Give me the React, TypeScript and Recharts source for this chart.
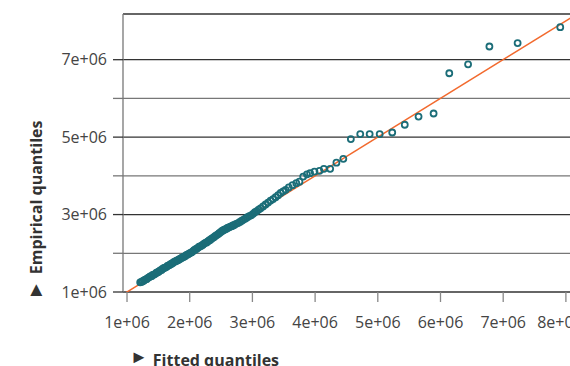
import { ScatterChart, Scatter, XAxis, YAxis, ReferenceLine } from 'recharts'

// fitted (theoretical) quantiles, in units of 1e+06
const fitted = [
  1.21, 1.23, 1.25, 1.27, 1.29, 1.31, 1.33, 1.35, 1.37, 1.39,
  1.41, 1.43, 1.45, 1.47, 1.49, 1.51, 1.53, 1.55, 1.57, 1.59,
  1.61, 1.63, 1.65, 1.67, 1.69, 1.71, 1.73, 1.75, 1.77, 1.79,
  1.81, 1.83, 1.85, 1.87, 1.89, 1.91, 1.93, 1.95, 1.97, 1.99,
  2.01, 2.03, 2.05, 2.07, 2.09, 2.11, 2.13, 2.15, 2.17, 2.19,
  2.21, 2.23, 2.25, 2.27, 2.29, 2.31, 2.33, 2.35, 2.37, 2.39,
  2.41, 2.43, 2.45, 2.47, 2.49, 2.51, 2.53, 2.55, 2.57, 2.59,
  2.61, 2.63, 2.65, 2.67, 2.69, 2.71, 2.74, 2.77, 2.80, 2.83,
  2.86, 2.89, 2.92, 2.95, 2.98, 3.01, 3.04, 3.07, 3.10, 3.13,
  3.17, 3.21, 3.25, 3.29, 3.33, 3.37, 3.41, 3.45, 3.49, 3.53,
  3.58, 3.64, 3.70, 3.75, 3.81, 3.87, 3.92, 3.99, 4.07, 4.14,
  4.24, 4.34, 4.45, 4.57, 4.72, 4.87, 5.03, 5.23, 5.43, 5.65,
  5.89, 6.14, 6.44, 6.78, 7.23, 7.91,
]

// empirical quantiles, in units of 1e+06
const empirical = [
  1.25, 1.26, 1.28, 1.30, 1.32, 1.33, 1.36, 1.38, 1.40, 1.41,
  1.44, 1.45, 1.47, 1.50, 1.51, 1.53, 1.56, 1.57, 1.60, 1.62,
  1.63, 1.65, 1.68, 1.69, 1.71, 1.73, 1.75, 1.78, 1.79, 1.81,
  1.82, 1.84, 1.86, 1.88, 1.90, 1.91, 1.93, 1.96, 1.97, 1.99,
  2.01, 2.02, 2.05, 2.08, 2.10, 2.12, 2.14, 2.17, 2.18, 2.20,
  2.22, 2.25, 2.27, 2.28, 2.31, 2.33, 2.35, 2.38, 2.40, 2.42,
  2.45, 2.47, 2.49, 2.52, 2.54, 2.57, 2.59, 2.61, 2.62, 2.64,
  2.66, 2.67, 2.69, 2.70, 2.72, 2.73, 2.76, 2.78, 2.81, 2.84,
  2.87, 2.90, 2.93, 2.96, 2.98, 3.02, 3.06, 3.09, 3.13, 3.16,
  3.21, 3.26, 3.31, 3.36, 3.40, 3.45, 3.50, 3.56, 3.60, 3.64,
  3.70, 3.76, 3.81, 3.85, 3.98, 4.04, 4.07, 4.11, 4.13, 4.18,
  4.18, 4.34, 4.44, 4.95, 5.08, 5.08, 5.08, 5.12, 5.32, 5.53,
  5.61, 6.65, 6.88, 7.34, 7.43, 7.84,
]

const xTicks = [1, 2, 3, 4, 5, 6, 7, 8]
const yTicks = [1, 2, 3, 4, 5, 6, 7]
const yLabelled = [1, 3, 5, 7]
const fitLine = [0.9, 8.5] // y = x reference

const points = fitted.map((x, i) => ({ x, y: empirical[i] }))

const FONT = '"Open Sans", sans-serif'
const fmt = (v: number) => `${v}e+06`

function YTick({ x, y, payload }: any) {
  const major = yLabelled.includes(payload.value)
  return (
    <g>
      <line x1={x + 6} x2={x + 16} y1={y} y2={y} stroke={major ? '#333' : '#777'} strokeWidth={1.3} />
      {major && (
        <text x={x} y={y} dy="0.35em" textAnchor="end" fill="#444" fontSize={16} fontFamily={FONT}>
          {fmt(payload.value)}
        </text>
      )}
    </g>
  )
}

function Dot({ cx, cy }: any) {
  return <circle cx={cx} cy={cy} r={3} fill="none" stroke="#1b6d78" strokeWidth={1.8} />
}

export default function App() {
  return (
    <div style={{ position: 'absolute', left: 0, top: 0, width: 570, height: 366, overflow: 'hidden', background: '#fff' }}>
      <ScatterChart width={580} height={366} margin={{ top: 14, right: 0, bottom: 0, left: 0 }}>
        <XAxis
          type="number"
          dataKey="x"
          domain={[0.936, 8.225]}
          ticks={xTicks}
          tickFormatter={fmt}
          axisLine={false}
          tickSize={10}
          tickMargin={15}
          tickLine={{ stroke: '#888', strokeWidth: 1.3 }}
          tick={{ fill: '#444', fontSize: 16, fontFamily: FONT }}
          height={74}
          allowDataOverflow
          label={{
            content: () => (
              <text x={130} y={366} fill="#333" fontSize={16} fontWeight="bold" fontFamily={FONT}>
                <tspan fontSize={18} dy={-3}>►</tspan>
                <tspan dx={5} dy={3}>Fitted quantiles</tspan>
              </text>
            ),
          }}
        />
        <YAxis
          type="number"
          dataKey="y"
          domain={[1, 8.18]}
          ticks={yTicks}
          width={123}
          tickSize={10}
          tickMargin={6}
          tickLine={false}
          axisLine={{ stroke: '#777', strokeWidth: 1.3 }}
          tick={<YTick />}
          allowDataOverflow
          label={{
            content: () => (
              <text x={42} y={300} transform="rotate(-90 42 300)" fill="#333" fontSize={16} fontWeight="bold" fontFamily={FONT}>
                <tspan fontSize={20}>►</tspan>
                <tspan dx={6}>Empirical quantiles</tspan>
              </text>
            ),
          }}
        />
        {yTicks.map((v) => (
          <ReferenceLine key={v} y={v} stroke={yLabelled.includes(v) ? '#333' : '#777'} strokeWidth={1.3} />
        ))}
        <ReferenceLine y={8.18} stroke="#333" strokeWidth={1.3} />
        <ReferenceLine
          segment={[{ x: fitLine[0], y: fitLine[0] }, { x: fitLine[1], y: fitLine[1] }]}
          stroke="#f26a2e"
          strokeWidth={1.5}
          ifOverflow="hidden"
        />
        <Scatter data={points} shape={<Dot />} isAnimationActive={false} />
      </ScatterChart>
    </div>
  )
}
